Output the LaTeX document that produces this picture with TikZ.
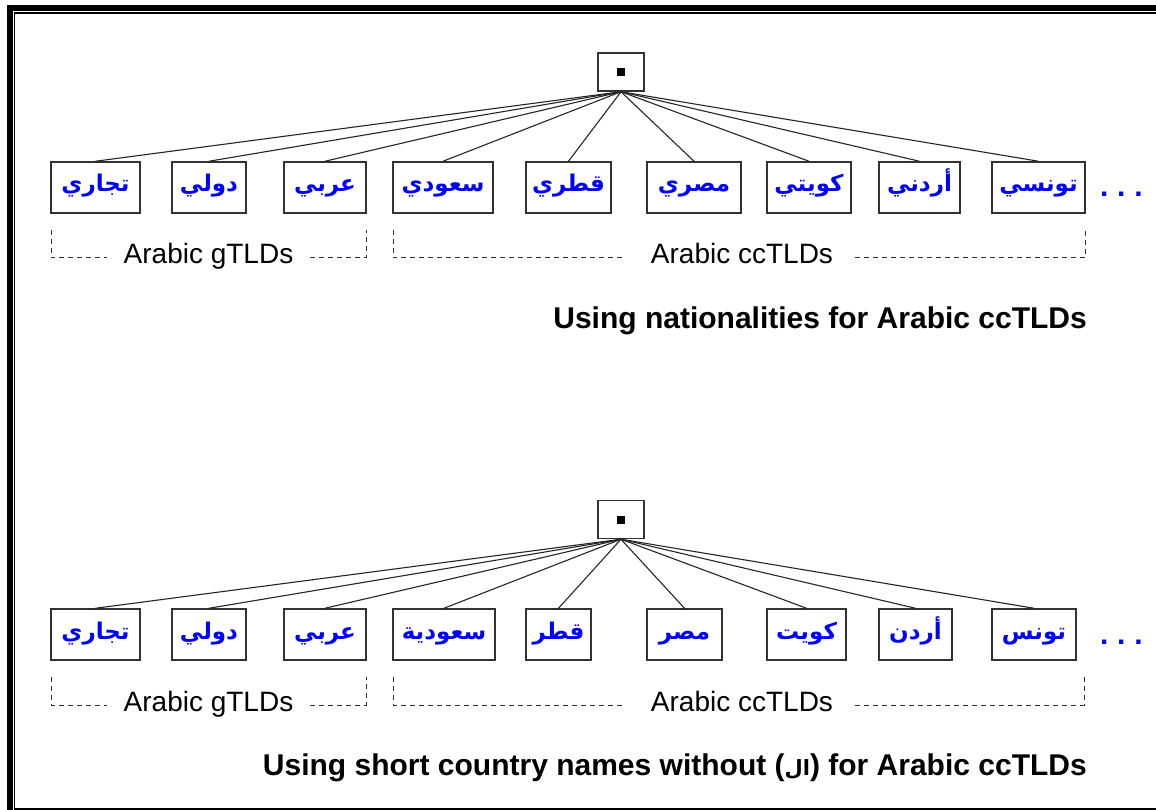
\documentclass[tikz,border=0pt]{standalone}
\usepackage{fontspec}
\setmainfont{Liberation Sans}
\newfontfamily\arabicfont[Script=Arabic]{DejaVu Sans}
\TeXXeTstate=1
\definecolor{arblue}{RGB}{0,0,255}
\definecolor{boxgray}{RGB}{50,50,50}
\begin{document}
\begin{tikzpicture}[x=1pt,y=-1pt,
  box/.style={draw=boxgray, line width=1.5pt, minimum height=51pt, inner sep=0pt, text height=15pt, text depth=6pt, text=arblue, font=\arabicfont\bfseries\fontsize{23}{27}\selectfont},
  rootbox/.style={draw=boxgray, line width=1.5pt, minimum width=46pt, minimum height=38pt, inner sep=0pt},
  rootdot/.style={fill=black, minimum size=8pt, inner sep=0pt},
  link/.style={draw=black!85, line width=1.1pt},
  brk/.style={draw=black!80, line width=1pt, dash pattern=on 5pt off 4pt},
  grp/.style={font=\fontsize{28}{32}\selectfont, inner sep=0pt, anchor=base},
  captext/.style={font=\bfseries\fontsize{30}{34}\selectfont, inner sep=0pt, anchor=base east},
  more/.style={text=arblue, font=\bfseries\fontsize{30}{34}\selectfont, inner sep=0pt, anchor=base west}]
\useasboundingbox (0,0) rectangle (1156,810);
\fill[white] (0,0) rectangle (1156,810);
% frame
\draw[line width=6pt, line join=miter] (9.5,810) -- (9.5,8) -- (1156,8);
\draw[line width=1.5pt, line join=miter] (1156,12.8) -- (14.6,12.8) -- (14.6,809) -- (1156,809);

% ---------- top tree ----------
\node[rootbox] (r1) at (621,72) {};
\node[rootdot] (d1) at (621,72) {};
\node[box, minimum width=89pt]  (a1) at (95.5,187.5)  {\beginR تجاري\endR};
\node[box, minimum width=74pt]  (a2) at (209,187.5)   {\beginR دولي\endR};
\node[box, minimum width=82pt]  (a3) at (325,187.5)   {\beginR عربي\endR};
\node[box, minimum width=100pt] (a4) at (443,187.5)   {\beginR سعودي\endR};
\node[box, minimum width=85pt]  (a5) at (568.5,187.5) {\beginR قطري\endR};
\node[box, minimum width=94pt]  (a6) at (694,187.5)   {\beginR مصري\endR};
\node[box, minimum width=84pt]  (a7) at (809,187.5)   {\beginR كويتي\endR};
\node[box, minimum width=81pt]  (a8) at (919.5,187.5) {\beginR أردني\endR};
\node[box, minimum width=93pt]  (a9) at (1038.5,187.5){\beginR تونسي\endR};
\node[more] (m1) at (1100,197) {.\hspace{8.7pt}.\hspace{8.7pt}.};
\foreach \i in {1,...,9} \draw[link] (r1.south) -- (a\i.north);

\node[grp] (g1) at (208.5,264) {Arabic gTLDs};
\node[grp] (h1) at (742,264) {Arabic ccTLDs};
\draw[brk] (51,230) -- (51,258) -- (107,258);
\draw[brk] (310,258) -- (366,258) -- (366,230);
\draw[brk] (393,230) -- (393,258) -- (625,258);
\draw[brk] (855,258) -- (1085,258) -- (1085,230);
\node[captext] (c1) at (1087,328) {Using nationalities for Arabic ccTLDs};

% ---------- bottom tree ----------
\node[rootbox] (r2) at (621,519.5) {};
\node[rootdot] (d2) at (621,519.5) {};
\node[box, minimum width=89pt]  (b1) at (95.5,634.5)  {\beginR تجاري\endR};
\node[box, minimum width=74pt]  (b2) at (209,634.5)   {\beginR دولي\endR};
\node[box, minimum width=82pt]  (b3) at (325,634.5)   {\beginR عربي\endR};
\node[box, minimum width=102pt] (b4) at (444,634.5)   {\beginR سعودية\endR};
\node[box, minimum width=65pt]  (b5) at (558.5,634.5) {\beginR قطر\endR};
\node[box, minimum width=75pt]  (b6) at (684.5,634.5) {\beginR مصر\endR};
\node[box, minimum width=79pt]  (b7) at (806.5,634.5) {\beginR كويت\endR};
\node[box, minimum width=73pt]  (b8) at (915.5,634.5) {\beginR أردن\endR};
\node[box, minimum width=84pt]  (b9) at (1034,634.5)  {\beginR تونس\endR};
\node[more] (m2) at (1100,644) {.\hspace{8.7pt}.\hspace{8.7pt}.};
\foreach \i in {1,...,9} \draw[link] (r2.south) -- (b\i.north);

\node[grp] (g2) at (208.5,711) {Arabic gTLDs};
\node[grp] (h2) at (742,711) {Arabic ccTLDs};
\draw[brk] (51,677) -- (51,705) -- (107,705);
\draw[brk] (310,705) -- (366,705) -- (366,677);
\draw[brk] (393,677) -- (393,705) -- (625,705);
\draw[brk] (855,705) -- (1084,705) -- (1084,677);
\node[captext] (c2) at (1087,775) {Using short country names without ({\arabicfont\fontsize{21}{25}\selectfont\beginR ال\endR}) for Arabic ccTLDs};
\end{tikzpicture}
\end{document}
